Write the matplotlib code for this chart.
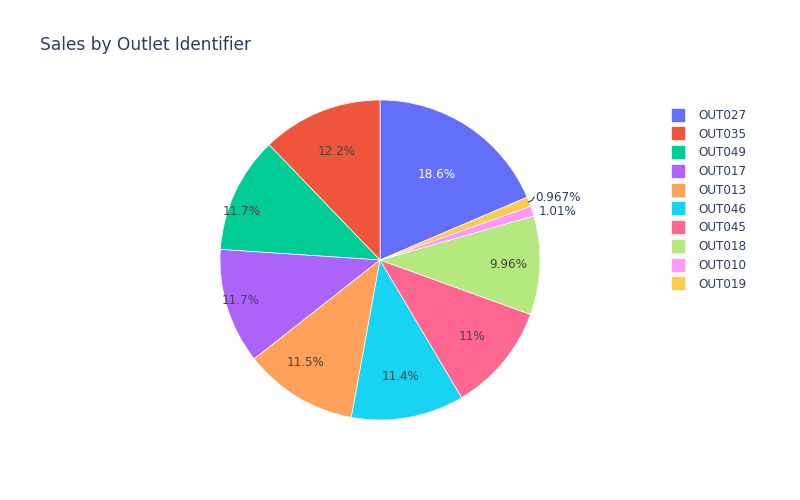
import numpy as np
import matplotlib.pyplot as plt
from matplotlib.lines import Line2D

# total sales per outlet (legend order, largest first)
outlets = ["OUT027", "OUT035", "OUT049", "OUT017", "OUT013",
           "OUT046", "OUT045", "OUT018", "OUT010", "OUT019"]
sales = [3453926, 2268123, 2183970, 2167465, 2142664,
         2118395, 2036725, 1851823, 188340, 179694]

colors = ["#636EFA", "#EF553B", "#00CC96", "#AB63FA", "#FFA15A",
          "#19D3F3", "#FF6692", "#B6E880", "#FF97FF", "#FECB52"]

# label placement: radius (fraction of pie radius), angle nudge (deg), y nudge
label_r = [0.64, 0.73, 0.92, 0.91, 0.79, 0.74, 0.75, 0.80, 1.04, 1.04]
label_da = [0, 0, 5.5, -1, -5, 0, 0, 0, 0, 0]
label_dy = [0, 0, 0, 0, 0, 0, 0, 0, -0.014, 0.014]

plt.rcParams['font.family'] = ['DejaVu Sans']

fig = plt.figure(figsize=(8, 5), dpi=100)
ax = fig.add_axes([220 / 800, 80 / 500, 320 / 800, 320 / 500])

vals = np.array(sales, dtype=float)
frac = vals / vals.sum()
# first slice ends at 12 o'clock, the rest follow clockwise
start = 90 - 360 * frac[0]

wedges, _ = ax.pie(vals, colors=colors, startangle=start, counterclock=True,
                   wedgeprops=dict(linewidth=0.5, edgecolor="white"))
ax.set_xlim(-1, 1)
ax.set_ylim(-1, 1)
ax.set_aspect("equal")

for w, f, r, da, dy in zip(wedges, frac, label_r, label_da, label_dy):
    mid = np.deg2rad((w.theta1 + w.theta2) / 2)
    a = mid + np.deg2rad(da)
    x, y = r * np.cos(a), r * np.sin(a) + dy
    txt = "%.3g%%" % (f * 100)
    if r > 1:
        if f < 0.01:
            ax.plot([0.995 * np.cos(mid), 1.02 * np.cos(mid), x - 0.005],
                    [0.995 * np.sin(mid), 1.02 * np.sin(mid), y],
                    color="#2a3f5f", lw=0.8)
        ax.text(x, y, txt, ha="left", va="center", fontsize=8.64,
                color="#2a3f5f")
    else:
        c = "white" if f > 0.15 else "#444444"
        ax.text(x, y, txt, ha="center", va="center", fontsize=8.64, color=c)

fig.text(40 / 800, 1 - 45 / 500, "Sales by Outlet Identifier",
         fontsize=12.24, color="#2a3f5f", ha="left", va="center")

handles = [Line2D([], [], marker="s", linestyle="", markersize=8.5,
                  markerfacecolor=c, markeredgecolor=c) for c in colors]
fig.legend(handles, outlets, loc="upper left",
           bbox_to_anchor=(667 / 800, 1 - 104 / 500), frameon=False,
           fontsize=8.64, labelcolor="#2a3f5f", handlelength=1.0,
           handletextpad=1.2, labelspacing=0.48, borderaxespad=0)

fig.savefig("out.png", dpi=100, facecolor="white")
